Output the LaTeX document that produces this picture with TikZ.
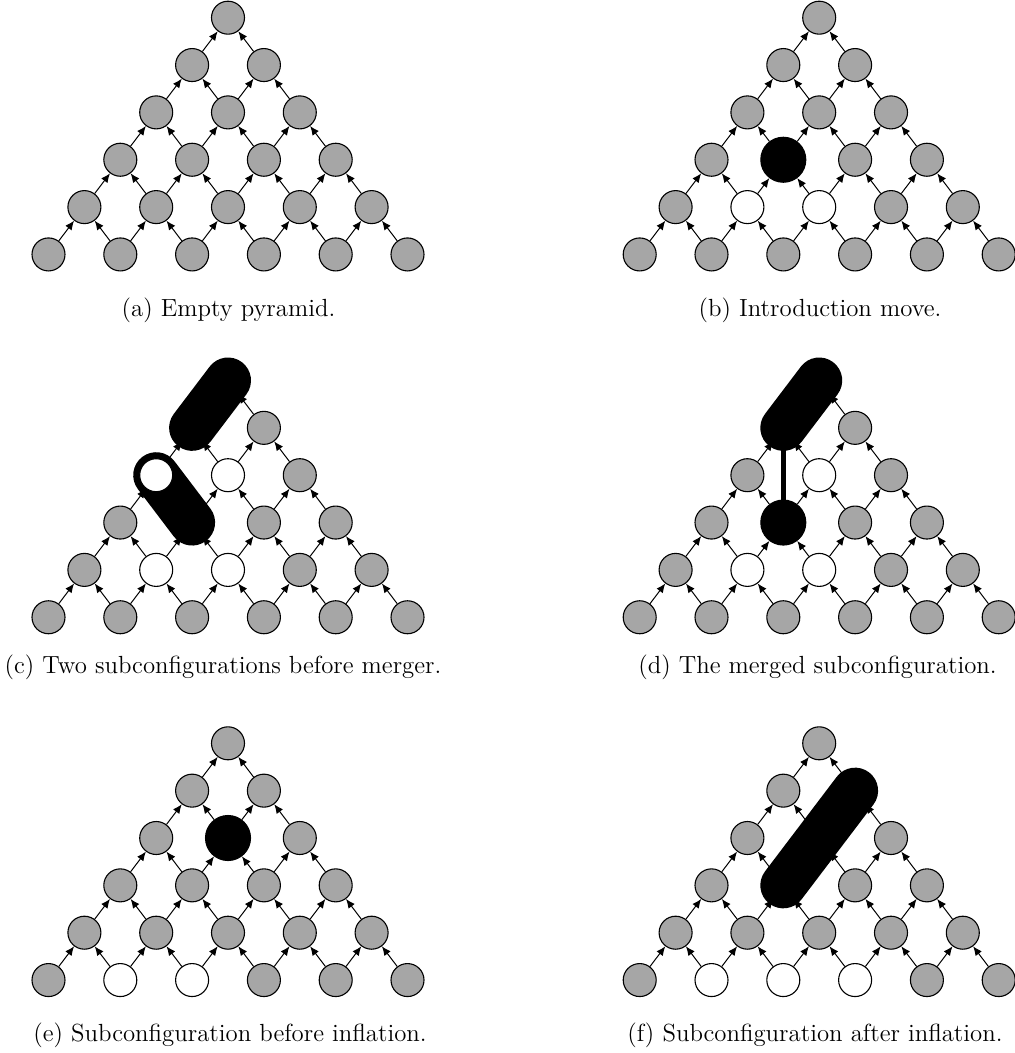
\documentclass[tikz,border=0pt]{standalone}
\usetikzlibrary{arrows.meta}
\pgfdeclarelayer{edgelayer}
\pgfdeclarelayer{blobL}
\pgfsetlayers{edgelayer,blobL,main}
\tikzset{
  pnode/.style={circle, draw=black, line width=0.55pt, fill=black!35, minimum size=16.5pt, inner sep=0pt},
  whitenode/.style={fill=white},
  blacknode/.style={fill=black, minimum size=22.5pt},
  hiddennode/.style={draw=none, fill=none},
  edge/.style={line width=0.5pt, -{Latex[length=4.6pt,width=3.9pt]}},
  blob/.style={line width=23pt, line cap=round, draw=black},
  merge/.style={line width=2.65pt, draw=black},
  captext/.style={anchor=base, inner sep=0pt, font=\fontsize{12.4}{14}\selectfont},
  % (b)
  s-b-3-1/.style={blacknode},
  s-b-4-1/.style={whitenode}, s-b-4-2/.style={whitenode},
  % (c)
  s-c-0-0/.style={hiddennode}, s-c-1-0/.style={hiddennode}, s-c-3-1/.style={hiddennode},
  s-c-2-0/.style={whitenode}, s-c-2-1/.style={whitenode},
  s-c-4-1/.style={whitenode}, s-c-4-2/.style={whitenode},
  % (d)
  s-d-0-0/.style={hiddennode}, s-d-1-0/.style={hiddennode},
  s-d-3-1/.style={blacknode},
  s-d-2-1/.style={whitenode},
  s-d-4-1/.style={whitenode}, s-d-4-2/.style={whitenode},
  % (e)
  s-e-2-1/.style={blacknode},
  s-e-5-1/.style={whitenode}, s-e-5-2/.style={whitenode},
  % (f)
  s-f-1-1/.style={hiddennode}, s-f-2-1/.style={hiddennode}, s-f-3-1/.style={hiddennode},
  s-f-5-1/.style={whitenode}, s-f-5-2/.style={whitenode}, s-f-5-3/.style={whitenode},
}
\newcommand\pyramidfig[3]{%
  \foreach \r in {0,...,5}{%
    \foreach \k in {0,...,\r}{%
      \pgfmathsetmacro\xx{#2+(2*\k-\r)*35.9}%
      \pgfmathsetmacro\yy{#3+\r*47.35}%
      \edef\tmpnode{\noexpand\node[pnode,s-#1-\r-\k/.try] (#1-\r-\k) at (\xx,\yy) {};}%
      \tmpnode
    }%
  }%
  \begin{pgfonlayer}{edgelayer}
  \foreach \r in {1,...,5}{%
    \pgfmathtruncatemacro\rr{\r-1}%
    \foreach \k in {0,...,\r}{%
      \pgfmathtruncatemacro\kk{\k-1}%
      \ifnum\k>0 \draw[edge] (#1-\r-\k) -- (#1-\rr-\kk);\fi
      \ifnum\k<\r \draw[edge] (#1-\r-\k) -- (#1-\rr-\k);\fi
    }%
  }%
  \end{pgfonlayer}
}
\begin{document}
\begin{tikzpicture}[x=0.5pt,y=-0.5pt]
\useasboundingbox (0,0) rectangle (1015,1053);
\pyramidfig{a}{228}{17.7}
\pyramidfig{b}{819.2}{17.7}
\pyramidfig{c}{228}{380.5}
\pyramidfig{d}{819.2}{380.5}
\pyramidfig{e}{228}{743.3}
\pyramidfig{f}{819.2}{743.3}
\begin{pgfonlayer}{blobL}
  \draw[blob] (c-0-0.center) -- (c-1-0.center);
  \draw[blob] (c-2-0.center) -- (c-3-1.center);
  \draw[blob] (d-0-0.center) -- (d-1-0.center);
  \draw[merge] (d-1-0.center) -- (d-3-1.center);
  \draw[blob] (f-1-1.center) -- (f-3-1.center);
\end{pgfonlayer}
\node[captext] (capa) at (228.5,316) {(a) Empty pyramid.};
\node[captext] (capb) at (820,316) {(b) Introduction move.};
\node[captext] (capc) at (223,673) {(c) Two subconfigurations before merger.};
\node[captext] (capd) at (817.5,673) {(d) The merged subconfiguration.};
\node[captext] (cape) at (230,1041) {(e) Subconfiguration before inflation.};
\node[captext] (capf) at (815,1041) {(f) Subconfiguration after inflation.};
\end{tikzpicture}
\end{document}
